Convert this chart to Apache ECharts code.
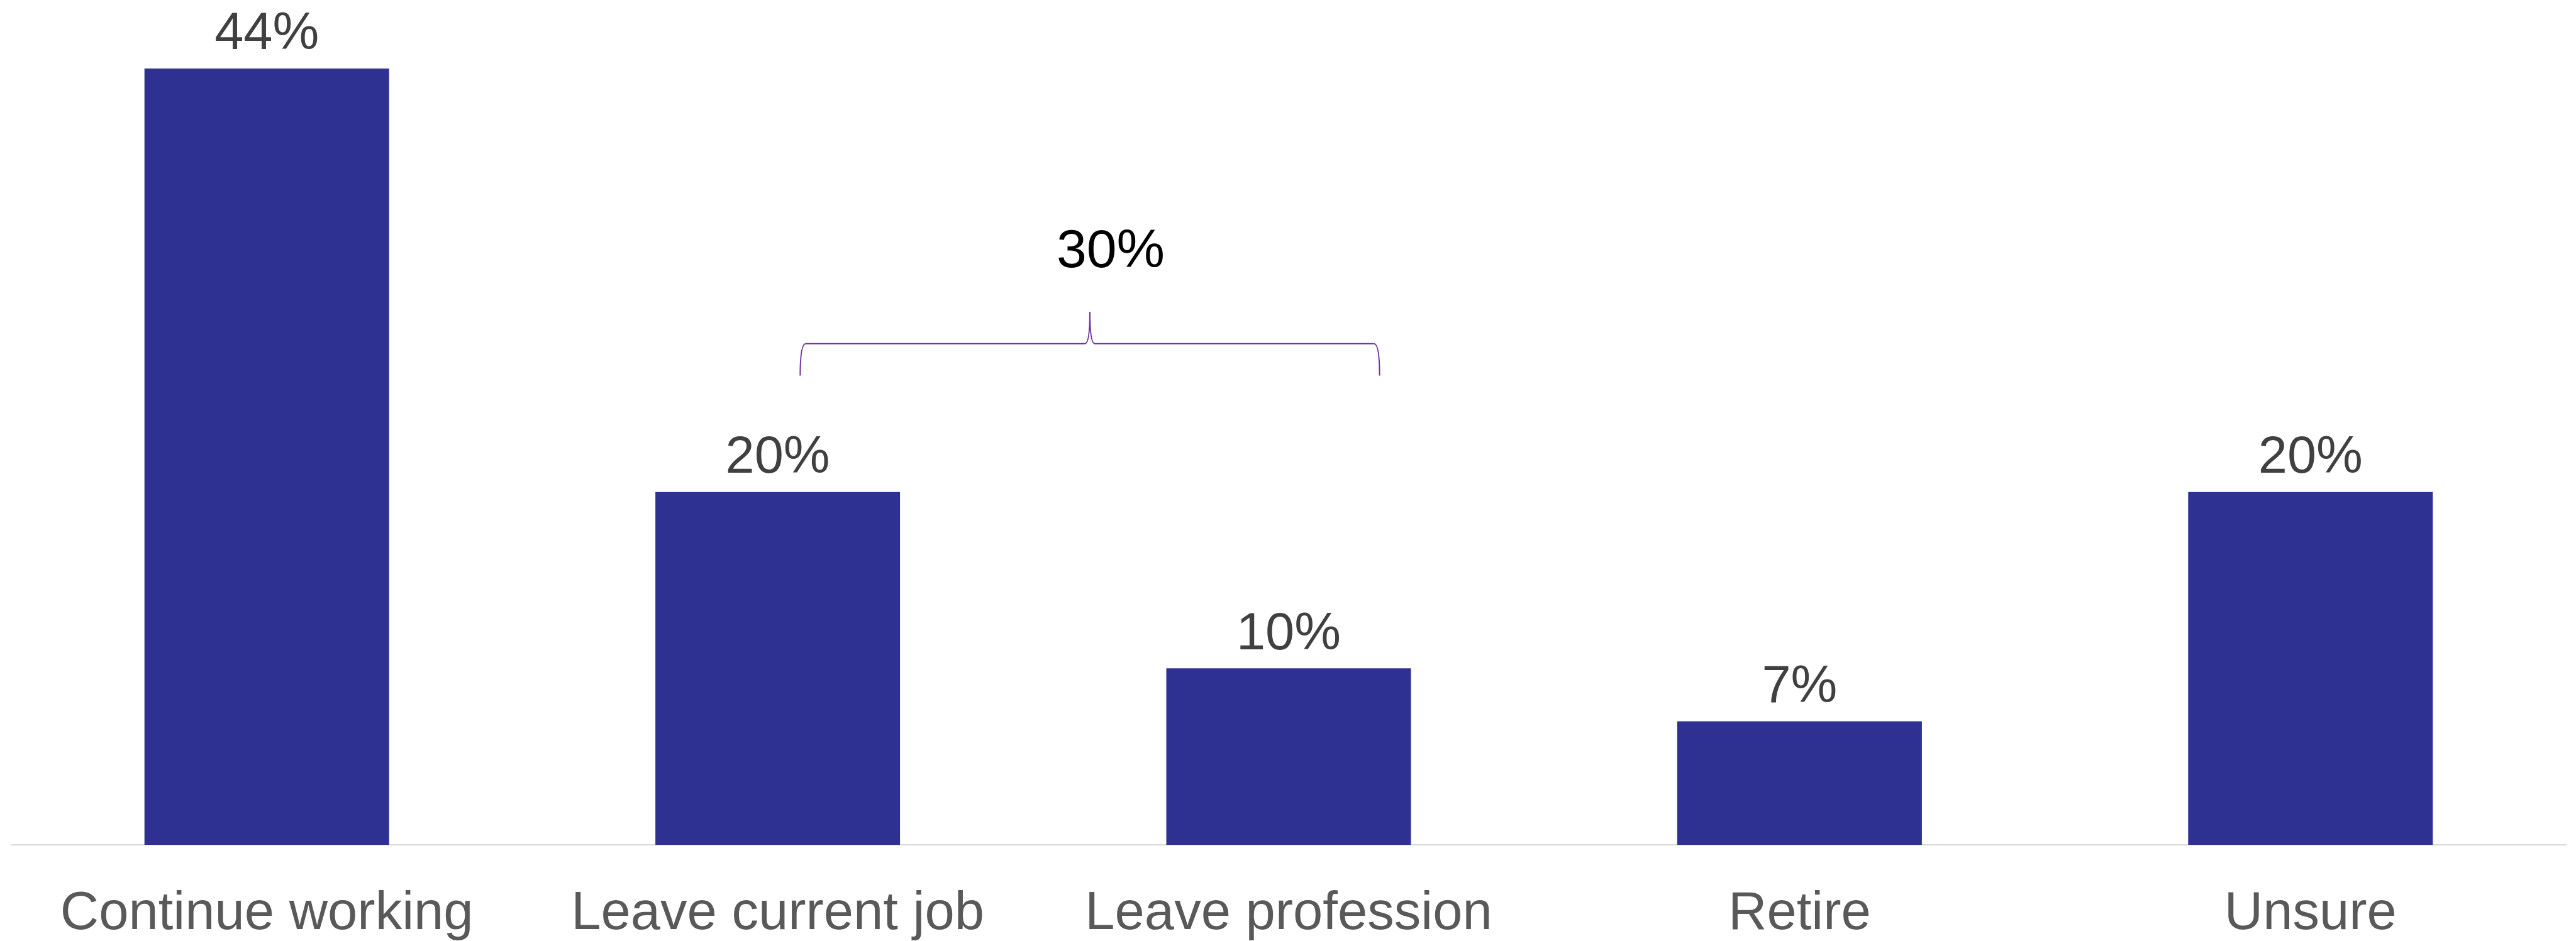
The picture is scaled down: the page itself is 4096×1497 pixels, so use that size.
<!DOCTYPE html>
<html>
<head>
<meta charset="utf-8">
<script src="https://cdn.jsdelivr.net/npm/echarts@6/dist/echarts.min.js"></script>
<style>
  html, body { margin: 0; padding: 0; background: #ffffff; }
  #chart { width: 4096px; height: 1497px; }
</style>
</head>
<body>
<div id="chart"></div>
<script>
// Survey answers: what respondents plan to do next
const categories = ['Continue working', 'Leave current job', 'Leave profession', 'Retire', 'Unsure'];
const shares = [44, 20, 10, 7, 20];
// Categories grouped under the bracket (their shares are summed)
const bracketed = [1, 2];

const FONT = '"Liberation Sans", Arial, sans-serif';
const chart = echarts.init(document.getElementById('chart'), null, { renderer: 'canvas' });

chart.setOption({
  backgroundColor: '#ffffff',
  animation: false,
  grid: { left: 18, right: 16, top: 109, bottom: 150, containLabel: false },
  xAxis: {
    type: 'category',
    data: categories,
    axisLine: { show: true, lineStyle: { color: '#d9d9d9', width: 2 } },
    axisTick: { show: false },
    axisLabel: { color: '#595959', fontSize: 85, fontFamily: FONT, margin: 68, interval: 0 }
  },
  yAxis: { type: 'value', min: 0, max: 44, show: false, splitLine: { show: false } },
  series: [{
    type: 'bar',
    data: shares,
    barWidth: 389,
    itemStyle: { color: '#2e3192' },
    label: {
      show: true,
      position: 'top',
      distance: 12,
      formatter: '{c}%',
      color: '#404040',
      fontSize: 83,
      fontFamily: FONT
    }
  }]
});

// Bracket over the "leave" categories, with their combined share above it
function drawBracket() {
  const a = chart.convertToPixel({ xAxisIndex: 0 }, bracketed[0]);
  const b = chart.convertToPixel({ xAxisIndex: 0 }, bracketed[1]);
  const band = b - a;
  const x0 = a + 0.044 * band;
  const x1 = b + 0.178 * band;
  const xm = (x0 + x1) / 2;
  const yEnd = chart.convertToPixel({ yAxisIndex: 0 }, 26.6);
  const yBar = chart.convertToPixel({ yAxisIndex: 0 }, 28.4);
  const yTip = chart.convertToPixel({ yAxisIndex: 0 }, 30.2);
  const yTxt = chart.convertToPixel({ yAxisIndex: 0 }, 33.6);
  const r = 9, t = 8;
  const stroke = { stroke: '#7030a0', lineWidth: 2, fill: null };
  const total = bracketed.reduce((s, i) => s + shares[i], 0);
  chart.setOption({
    graphic: [
      { type: 'bezierCurve', shape: { x1: x0, y1: yEnd, cpx1: x0, cpy1: yBar, x2: x0 + r, y2: yBar }, style: stroke, z: 10 },
      { type: 'line', shape: { x1: x0 + r, y1: yBar, x2: xm - t, y2: yBar }, style: stroke, z: 10 },
      { type: 'bezierCurve', shape: { x1: xm - t, y1: yBar, cpx1: xm, cpy1: yBar, x2: xm, y2: yTip }, style: stroke, z: 10 },
      { type: 'bezierCurve', shape: { x1: xm, y1: yTip, cpx1: xm, cpy1: yBar, x2: xm + t, y2: yBar }, style: stroke, z: 10 },
      { type: 'line', shape: { x1: xm + t, y1: yBar, x2: x1 - r, y2: yBar }, style: stroke, z: 10 },
      { type: 'bezierCurve', shape: { x1: x1 - r, y1: yBar, cpx1: x1, cpy1: yBar, x2: x1, y2: yEnd }, style: stroke, z: 10 },
      {
        type: 'text',
        x: xm + 33,
        y: yTxt,
        style: {
          text: total + '%',
          fill: '#000000',
          fontSize: 86,
          fontFamily: FONT,
          align: 'center',
          verticalAlign: 'middle'
        },
        z: 10
      }
    ]
  });
}
drawBracket();
</script>
</body>
</html>
